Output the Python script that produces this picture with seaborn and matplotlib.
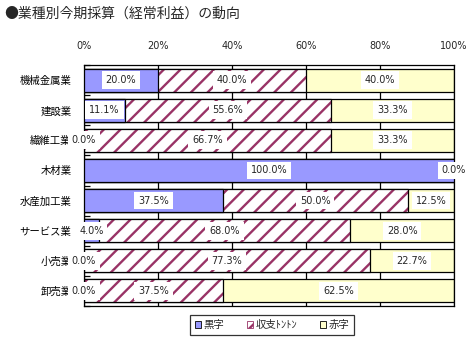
import matplotlib
matplotlib.use("Agg")
import matplotlib.pyplot as plt
import seaborn as sns
import numpy as np
import pandas as pd
from matplotlib.patches import Patch

categories = ["機械金属業", "建設業", "繊維工業", "木材業", "水産加工業", "サービス業", "小売業", "卸売業"]
kuroji = [20.0, 11.1, 0.0, 100.0, 37.5, 4.0, 0.0, 0.0]
tonton = [40.0, 55.6, 66.7, 0.0, 50.0, 68.0, 77.3, 37.5]
akaji = [40.0, 33.3, 33.3, 0.0, 12.5, 28.0, 22.7, 62.5]
series_names = ["黒字", "収支ﾄﾝﾄﾝ", "赤字"]
xticks = [0, 20, 40, 60, 80, 100]
xticklabels = ["0%", "20%", "40%", "60%", "80%", "100%"]
title = "●業種別今期採算（経常利益）の動向"

BLUE = "#9999FF"
MAROON = "#993366"
YELLOW = "#FFFFCC"

sns.set_theme(style="white")
plt.rcParams["font.family"] = ["Noto Sans CJK JP", "DejaVu Sans"]
plt.rcParams["hatch.linewidth"] = 1.7

df = pd.DataFrame({"cat": categories, "k": kuroji, "t": tonton, "a": akaji})
df["c1"] = df["k"]
df["c2"] = df["k"] + df["t"]
df["c3"] = df["c2"] + df["a"]

fig = plt.figure(figsize=(4.77, 3.5), dpi=100)
ax = fig.add_axes([84 / 477, 44 / 350, 370 / 477, 241 / 350])

W = 0.76

def new_bars(before):
    return ax.patches[before:]

# 赤字 (full extent)
n = len(ax.patches)
sns.barplot(data=df, x="c3", y="cat", orient="h", order=categories, color=YELLOW,
            saturation=1, width=W, errorbar=None, ax=ax)
for p in new_bars(n):
    p.set_facecolor(YELLOW); p.set_edgecolor("black"); p.set_linewidth(0.9); p.set_zorder(2)

# 収支トントン hatched
n = len(ax.patches)
sns.barplot(data=df, x="c2", y="cat", orient="h", order=categories, color="white",
            saturation=1, width=W, errorbar=None, ax=ax)
for p in new_bars(n):
    p.set_facecolor("white"); p.set_edgecolor(MAROON); p.set_hatch("//")
    p.set_linewidth(0); p.set_zorder(3)
n = len(ax.patches)
sns.barplot(data=df, x="c2", y="cat", orient="h", order=categories, color="white",
            saturation=1, width=W, errorbar=None, ax=ax)
for p in new_bars(n):
    p.set_facecolor("none"); p.set_edgecolor("black"); p.set_linewidth(0.9); p.set_zorder(4)

# 黒字
n = len(ax.patches)
sns.barplot(data=df, x="c1", y="cat", orient="h", order=categories, color=BLUE,
            saturation=1, width=W, errorbar=None, ax=ax)
for p in new_bars(n):
    p.set_facecolor(BLUE); p.set_edgecolor("black"); p.set_linewidth(0.9); p.set_zorder(5)

# value labels
starts = [np.zeros(len(categories)), df["c1"].values, df["c2"].values]
vals = [df["k"].values, df["t"].values, df["a"].values]
for s, v in zip(starts, vals):
    for i, (st, vv) in enumerate(zip(s, v)):
        ax.text(st + vv / 2, i, f"{vv:.1f}%", ha="center", va="center", fontsize=7,
                family=["DejaVu Sans"], zorder=10, clip_on=False,
                bbox=dict(boxstyle="square,pad=0.4", facecolor="white", edgecolor="none"))

ax.set_xlim(0, 100)
ax.set_ylim(len(categories) - 0.5, -0.5)
ax.set_xticks(xticks)
ax.set_xticklabels(xticklabels, fontsize=7, family=["DejaVu Sans"])
ax.xaxis.tick_top()
ax.tick_params(axis="x", length=0, pad=10)
ax.tick_params(axis="y", which="major", length=0, pad=9, labelsize=7.5, colors="black")
ax.set_yticks(np.arange(len(categories) + 1) - 0.5, minor=True)
ax.tick_params(axis="y", which="minor", length=4, direction="in", width=0.9, left=True,
               color="black")
ax.grid(axis="x", color="black", linewidth=0.9)
ax.set_axisbelow(True)
ax.set_xlabel("")
ax.set_ylabel("")
for sp in ax.spines.values():
    sp.set_color("black")
    sp.set_linewidth(0.9)

fig.text(4 / 477, 1 - 14 / 350, title, fontsize=10, va="center", ha="left")

handles = [Patch(facecolor=BLUE, edgecolor="black", linewidth=0.6),
           Patch(facecolor="white", edgecolor=MAROON, hatch="///", linewidth=0.6),
           Patch(facecolor=YELLOW, edgecolor="black", linewidth=0.6)]
leg = fig.legend(handles, series_names, loc="center", bbox_to_anchor=(272 / 477, 1 - 325 / 350),
                 ncol=3, fontsize=7.5, frameon=True, fancybox=False, handlelength=0.6,
                 handleheight=0.6, handletextpad=0.2, columnspacing=2.2, borderpad=0.5)
leg.get_frame().set_edgecolor("black")
leg.get_frame().set_linewidth(0.9)

fig.savefig("out.png", dpi=100)
